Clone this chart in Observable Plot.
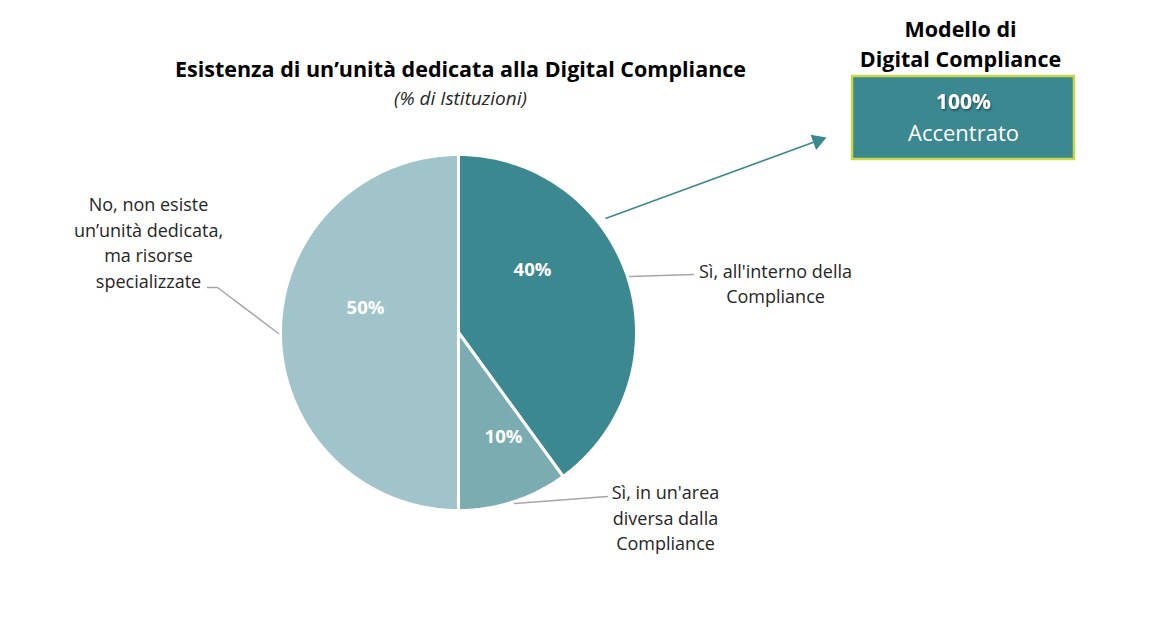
<!DOCTYPE html>
<html>
<head>
<meta charset="utf-8">
<script src="https://cdn.jsdelivr.net/npm/d3@7"></script>
<script src="https://cdn.jsdelivr.net/npm/@observablehq/plot@0.6"></script>
<style>
  html, body { margin: 0; padding: 0; background: #fff; }
  #chart svg { display: block; }
</style>
</head>
<body>
<div id="chart"></div>
<script>
// ---- Data ----
const categories = [
  "Sì, all'interno della Compliance",
  "Sì, in un'area diversa dalla Compliance",
  "No, non esiste un’unità dedicata, ma risorse specializzate"
];
const values = [40, 10, 50];
const valueLabels = ["40%", "10%", "50%"];
const categoryLabels = [
  "Sì, all'interno della\nCompliance",
  "Sì, in un'area\ndiversa dalla\nCompliance",
  "No, non esiste\nun’unità dedicata,\nma risorse\nspecializzate"
];
const sliceColors = ["#3b8891", "#7aacb2", "#a1c4ca"];
const titleText = "Esistenza di un’unità dedicata alla Digital Compliance";
const subtitleText = "(% di Istituzioni)";
const modelTitle = "Modello di\nDigital Compliance";
const modelValue = "100%";
const modelLabel = "Accentrato";

// ---- Layout (pixels) ----
const W = 1164, H = 622;
const cx = 458, cy = 332, R = 178;
const FONT = "'Open Sans', Lato, sans-serif";
const valuePos = [[532, 270], [503, 437], [365, 308]];
const labelPos = [[775, 282], [665, 516], [148, 241]];
const leaders = [
  [[629, 276], [693, 274]],
  [[514, 503], [607, 496]],
  [[207, 287], [217, 287], [278, 333]]
];
const arrowFrom = [605, 218], arrowTo = [826, 137];
const headR = 6;

// ---- Build pie polygons from data ----
const arcs = d3.pie().sort(null).value(d => d)(values);
const polyPts = [];
arcs.forEach((a, i) => {
  const n = Math.max(8, Math.ceil((a.endAngle - a.startAngle) / (Math.PI / 180)));
  polyPts.push({k: i, x: cx, y: cy});
  for (let j = 0; j <= n; j++) {
    const t = a.startAngle + (a.endAngle - a.startAngle) * j / n;
    polyPts.push({k: i, x: cx + R * Math.sin(t), y: cy - R * Math.cos(t)});
  }
  polyPts.push({k: i, x: cx, y: cy});
});

const valueData = values.map((v, i) => ({x: valuePos[i][0], y: valuePos[i][1], text: valueLabels[i]}));
const labelData = categories.map((c, i) => ({x: labelPos[i][0], y: labelPos[i][1], text: categoryLabels[i]}));
const leaderData = [];
leaders.forEach((pts, i) => pts.forEach(p => leaderData.push({k: i, x: p[0], y: p[1]})));

// arrow geometry (filled triangular head)
const adx = arrowTo[0] - arrowFrom[0], ady = arrowTo[1] - arrowFrom[1];
const alen = Math.hypot(adx, ady), ux = adx / alen, uy = ady / alen;
const hy = Math.sqrt(Math.PI * headR * headR / (3 * Math.sqrt(3)));
const headC = {x: arrowTo[0] - 2 * hy * ux, y: arrowTo[1] - 2 * hy * uy, rot: Math.atan2(ady, adx) * 180 / Math.PI + 90};
const shaft = {x1: arrowFrom[0], y1: arrowFrom[1], x2: headC.x - hy * 0.8 * ux, y2: headC.y - hy * 0.8 * uy};

const chart = Plot.plot({
  width: W,
  height: H,
  margin: 0,
  style: {fontFamily: FONT, background: "#fff"},
  x: {type: "linear", domain: [0, W], range: [0, W], axis: null},
  y: {type: "linear", domain: [0, H], range: [0, H], axis: null},
  color: {type: "identity"},
  marks: [
    Plot.line(polyPts, {x: "x", y: "y", z: "k", fill: d => sliceColors[d.k], stroke: "#ffffff", strokeWidth: 3, strokeLinejoin: "miter", curve: "linear"}),
    Plot.line(leaderData, {x: "x", y: "y", z: "k", stroke: "#a6a6a6", strokeWidth: 1.5}),
    Plot.text(valueData, {x: "x", y: "y", text: "text", fill: "#ffffff", fontSize: 18.5, fontWeight: "bold"}),
    Plot.text(labelData, {x: "x", y: "y", text: "text", fill: "#262626", fontSize: 18, lineHeight: 1.42, lineAnchor: "middle", textAnchor: "middle"}),
    Plot.text([titleText], {x: () => 460, y: () => 70, text: d => d, fontSize: 21.5, fontWeight: "bold", fill: "#000"}),
    Plot.text([subtitleText], {x: () => 460, y: () => 98, text: d => d, fontSize: 19, fontStyle: "italic", fill: "#262626"}),
    Plot.link([shaft], {x1: "x1", y1: "y1", x2: "x2", y2: "y2", stroke: "#3b8891", strokeWidth: 1.6}),
    Plot.dot([headC], {x: "x", y: "y", r: headR, symbol: "triangle", rotate: "rot", fill: "#3b8891", stroke: "none"}),
    Plot.text([modelTitle], {x: () => 960, y: () => 42, text: d => d, fontSize: 21.5, fontWeight: "bold", fill: "#000", lineHeight: 1.4}),
    Plot.rect([0], {x1: () => 852, x2: () => 1074, y1: () => 76, y2: () => 159, fill: "#3b8891", stroke: "#c6d84a", strokeWidth: 2.5}),
    Plot.text([modelValue], {x: () => 963, y: () => 102, text: d => d, fontSize: 21, fontWeight: "bold", fill: "#ffffff", className: "shadowed"}),
    Plot.text([modelLabel], {x: () => 963, y: () => 133, text: d => d, fontSize: 22, fill: "#ffffff"})
  ]
});
// drop shadow for the "100%" text
const svg = d3.select(chart);
const defs = svg.insert("defs", ":first-child");
defs.append("filter").attr("id", "ts").attr("x", "-20%").attr("y", "-20%").attr("width", "140%").attr("height", "160%")
  .append("feDropShadow").attr("dx", 1).attr("dy", 1.5).attr("stdDeviation", 1).attr("flood-color", "#000").attr("flood-opacity", 0.45);
svg.selectAll("g.shadowed").attr("filter", "url(#ts)");
document.getElementById("chart").appendChild(chart);
</script>
</body>
</html>
